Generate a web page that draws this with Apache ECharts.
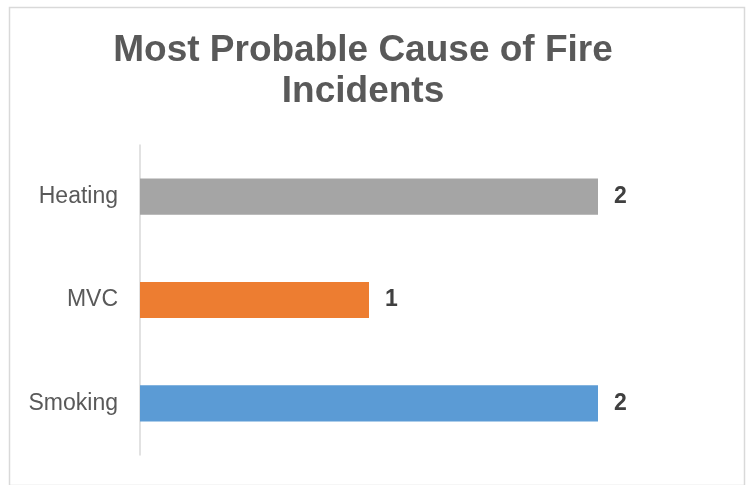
<!DOCTYPE html>
<html>
<head>
<meta charset="utf-8">
<script src="https://cdn.jsdelivr.net/npm/echarts@6/dist/echarts.min.js"></script>
<style>html,body{margin:0;padding:0;background:#fff;}#c{width:749px;height:485px;}</style>
</head>
<body>
<div id="c"></div>
<script>
const categories = ['Smoking', 'MVC', 'Heating'];
const values = [2, 1, 2];
const barColors = ['#5B9BD5', '#ED7D31', '#A5A5A5'];
const titleText = 'Most Probable Cause of Fire\nIncidents';

const chart = echarts.init(document.getElementById('c'));
chart.setOption({
  animation: false,
  graphic: [{
    type: 'rect', left: 7, top: 5,
    shape: { width: 735, height: 478 },
    style: { fill: 'none', stroke: '#D9D9D9', lineWidth: 1.5 },
    silent: true
  }],
  title: {
    text: titleText,
    left: 358, top: 25,
    textAlign: 'center',
    textStyle: { fontFamily: 'Liberation Sans', fontSize: 37, fontWeight: 'bold', color: '#595959', lineHeight: 41 }
  },
  grid: { left: 140, right: 151, top: 145, bottom: 30 },
  xAxis: {
    type: 'value', min: 0, max: 2,
    axisLabel: { show: false }, splitLine: { show: false },
    axisLine: { show: false }, axisTick: { show: false }
  },
  yAxis: {
    type: 'category', data: categories,
    axisLine: { show: true, lineStyle: { color: '#D9D9D9', width: 1.5 } },
    axisTick: { show: false },
    axisLabel: { fontFamily: 'Liberation Sans', fontSize: 23, color: '#595959', margin: 22 }
  },
  series: [{
    type: 'bar',
    data: values.map((v, i) => ({ value: v, itemStyle: { color: barColors[i] } })),
    barWidth: '35%',
    label: {
      show: true, position: 'right', distance: 16,
      fontFamily: 'Liberation Sans', fontSize: 23, fontWeight: 'bold', color: '#404040'
    }
  }]
});
</script>
</body>
</html>
